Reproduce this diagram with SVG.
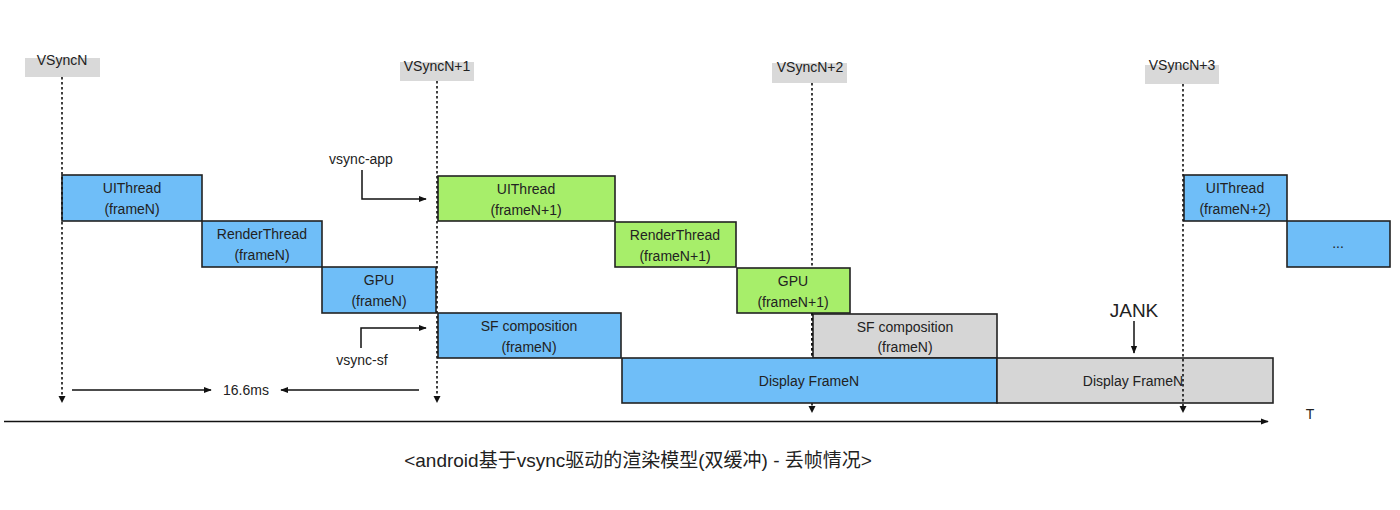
<svg xmlns="http://www.w3.org/2000/svg" width="1400" height="510" viewBox="0 0 1400 510">
<defs>
<style>
text{font-family:"Liberation Sans","Noto Sans CJK SC",sans-serif;fill:#222;}
.lbl{font-size:14px;text-anchor:middle;}
.box{stroke:#222;stroke-width:1.6;}
.blue{fill:#6FBEF8;}
.green{fill:#A7EE6A;}
.grey{fill:#D6D6D6;}
.tag{fill:#D9D9D9;}
.vs{stroke:#111;stroke-width:1.6;stroke-dasharray:2.5 2.5;fill:none;}
.ln{stroke:#111;stroke-width:1.5;fill:none;}
.tri{fill:#111;}
</style>
<marker id="ah" viewBox="0 0 10 10" refX="9" refY="5" markerWidth="8" markerHeight="8" markerUnits="userSpaceOnUse" orient="auto"><path d="M0,1 L10,5 L0,9 z" fill="#111"/></marker>
</defs>
<rect width="1400" height="510" fill="#fff"/>

<g id="vsync-labels">
<rect class="tag" x="25" y="58" width="75" height="19"/>
<text x="62" y="65" class="lbl">VSyncN</text>
<rect class="tag" x="400" y="62" width="74" height="19"/>
<text x="437" y="71" class="lbl">VSyncN+1</text>
<rect class="tag" x="772" y="63" width="75" height="20"/>
<text x="810" y="72" class="lbl">VSyncN+2</text>
<rect class="tag" x="1145" y="65" width="74" height="19"/>
<text x="1182" y="70" class="lbl">VSyncN+3</text>
</g>

<g id="vsyncN2-line-back">
<line class="vs" x1="812" y1="83" x2="812" y2="406"/>
</g>

<g id="ui-frameN"><rect class="box blue" x="62" y="175" width="140" height="46"/><text class="lbl" x="132" y="193">UIThread</text><text class="lbl" x="132" y="214">(frameN)</text></g>
<g id="rt-frameN"><rect class="box blue" x="202" y="221" width="120" height="46"/><text class="lbl" x="262" y="239">RenderThread</text><text class="lbl" x="262" y="260">(frameN)</text></g>
<g id="gpu-frameN"><rect class="box blue" x="322" y="267" width="114" height="46"/><text class="lbl" x="379" y="285">GPU</text><text class="lbl" x="379" y="306">(frameN)</text></g>
<g id="ui-frameN1"><rect class="box green" x="438" y="176" width="177" height="45"/><text class="lbl" x="526" y="194">UIThread</text><text class="lbl" x="526" y="215">(frameN+1)</text></g>
<g id="rt-frameN1"><rect class="box green" x="615" y="222" width="121" height="45"/><text class="lbl" x="675" y="240">RenderThread</text><text class="lbl" x="675" y="261">(frameN+1)</text></g>
<g id="gpu-frameN1"><rect class="box green" x="737" y="268" width="113" height="45"/><text class="lbl" x="793" y="286">GPU</text><text class="lbl" x="793" y="307">(frameN+1)</text></g>
<g id="sf-frameN"><rect class="box blue" x="438" y="313" width="183" height="45"/><text class="lbl" x="529" y="331">SF composition</text><text class="lbl" x="529" y="352">(frameN)</text></g>
<g id="sf-frameN-grey"><rect class="box grey" x="813" y="314" width="184" height="44"/><text class="lbl" x="905" y="332">SF composition</text><text class="lbl" x="905" y="352">(frameN)</text></g>
<g id="display-frameN"><rect class="box blue" x="622" y="358" width="375" height="45"/><text class="lbl" x="809" y="386">Display FrameN</text></g>
<g id="display-frameN-grey"><rect class="box grey" x="997" y="358" width="276" height="45"/><text class="lbl" x="1133" y="386">Display FrameN</text></g>
<g id="ui-frameN2"><rect class="box blue" x="1184" y="175" width="103" height="46"/><text class="lbl" x="1235" y="193">UIThread</text><text class="lbl" x="1235" y="214">(frameN+2)</text></g>
<g id="more"><rect class="box blue" x="1287" y="221" width="103" height="46"/><text class="lbl" x="1338" y="248">...</text></g>

<g id="connectors">
<line class="vs" x1="62" y1="77" x2="62" y2="397"/>
<path class="tri" d="M58.5,396 L65.5,396 L62,403 z"/>
<line class="vs" x1="437" y1="81" x2="437" y2="397"/>
<path class="tri" d="M433.5,396 L440.5,396 L437,403 z"/>
<line class="vs" x1="812" y1="313" x2="812" y2="358"/>
<path class="tri" d="M808.5,406 L815.5,406 L812,413 z"/>
<line class="vs" x1="1183" y1="84" x2="1183" y2="407"/>
<path class="tri" d="M1179.5,406 L1186.5,406 L1183,413 z"/>
<line class="ln" x1="4" y1="421.5" x2="1268" y2="421.5" marker-end="url(#ah)"/>
<line class="ln" x1="72" y1="390" x2="211" y2="390" marker-end="url(#ah)"/>
<line class="ln" x1="419" y1="390" x2="281" y2="390" marker-end="url(#ah)"/>
<path class="ln" d="M362,170 L362,199 L426,199" marker-end="url(#ah)"/>
<path class="ln" d="M361,348 L361,328 L426,328" marker-end="url(#ah)"/>
<line class="ln" x1="1134" y1="321" x2="1134" y2="353" marker-end="url(#ah)"/>
</g>

<g id="annotations">
<text x="246" y="395" class="lbl">16.6ms</text>
<text x="361" y="164" class="lbl">vsync-app</text>
<text x="362" y="365" class="lbl">vsync-sf</text>
<text x="1134" y="317" style="font-size:19px;text-anchor:middle">JANK</text>
<text x="1310" y="419" style="font-size:14px;text-anchor:middle">T</text>
<text x="638" y="467" style="font-size:19px;text-anchor:middle">&lt;android基于vsync驱动的渲染模型(双缓冲) - 丢帧情况&gt;</text>
</g>
</svg>
